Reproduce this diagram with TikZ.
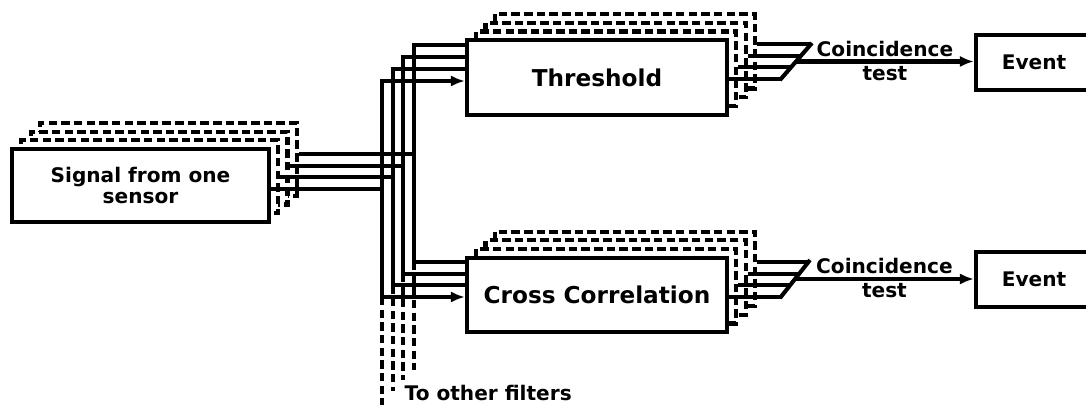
\documentclass[tikz,border=0pt]{standalone}
\usepackage{fontspec}
\setmainfont{DejaVu Sans}
\usetikzlibrary{arrows.meta,calc}
\begin{document}
\begin{tikzpicture}[x=0.025cm,y=-0.025cm,
 box/.style={draw,fill=white,line width=3pt,inner sep=2pt,align=center,
             font=\bfseries\fontsize{14.3}{14.5}\selectfont},
 ghost/.style={box,dash pattern=on 6pt off 3pt},
 sensbox/.style={minimum width=6.42cm,minimum height=1.82cm},
 filt/.style={minimum width=6.5cm,minimum height=1.86cm},
 big/.style={font=\bfseries\fontsize{16.5}{18}\selectfont},
 evbox/.style={box,minimum width=2.9cm,minimum height=1.375cm},
 bus/.style={line width=2.9pt},
 sig/.style={bus,-{Latex[length=10pt,width=8pt]}},
 other/.style={bus,dash pattern=on 6pt off 3pt},
 lbl/.style={font=\bfseries\fontsize{14.3}{14.5}\selectfont,inner sep=2pt}]
 \path[use as bounding box,clip] (0,0) rectangle (1086,406);
 \foreach \k in {3,2,1} {
  \node[ghost,sensbox] (sen\k) at (140.5+9.3*\k,185.5-8.7*\k) {};
  \node[ghost,filt] (thr\k) at (597+9.3*\k,77.5-8.7*\k) {};
  \node[ghost,filt] (xc\k) at (597+9.3*\k,295-8.7*\k) {};
 }
 \node[box,sensbox] (sen0) at (140.5,185.5) {Signal from one\\sensor};
 \node[box,filt,big] (thr0) at (597,77.5) {Threshold};
 \node[box,filt,big] (xc0) at (597,295) {Cross Correlation};
 \node[evbox] (ev1) at (1034,62.5) {Event};
 \node[evbox] (ev2) at (1034,279.5) {Event};
 \foreach \i/\tip/\ys/\xb/\yt/\yc/\yd in {0/sig/189/382/81/297/405,
   1/bus/177.4/392.7/69/285.3/391,2/bus/165.8/403.4/57/273.6/380,
   3/bus/154.2/414.1/45/262/370} {
  \coordinate (j\i) at (\xb,\ys);
  \coordinate (k\i) at (\xb,\yc);
  \coordinate (o\i) at (\xb,\yd);
  \draw[bus] (sen\i.east |- j\i) -- (j\i);
  \draw[\tip] (j\i) |- (thr0.west |- 0,\yt);
  \draw[\tip] (j\i) |- (xc0.west |- k\i);
  \draw[other] (k\i) -- (o\i);
 }
 \node[lbl,anchor=west,inner sep=1pt] (oth) at (403,393.5) {To other filters};
 \coordinate (ta) at (780,80);
 \coordinate (tb) at (812,43);
 \coordinate (ca) at (780,298);
 \coordinate (cb) at (810,260);
 \draw[bus] (ta) -- (tb);
 \draw[bus] (ca) -- (cb);
 \foreach \i/\t/\u in {0/0.03/0.026,1/0.34/0.334,2/0.65/0.642,3/0.97/0.947} {
  \coordinate (te\i) at ($(ta)!\t!(tb)$);
  \coordinate (ce\i) at ($(ca)!\u!(cb)$);
  \draw[bus] (thr\i.east |- te\i) -- (te\i);
  \draw[bus] (xc\i.east |- ce\i) -- (ce\i);
 }
 \coordinate (tm) at ($(ta)!0.5!(tb)$);
 \coordinate (cm) at ($(ca)!0.5!(cb)$);
 \draw[sig] (tm) -- node[lbl,above]{Coincidence} node[lbl,below]{test} (ev1.west |- tm);
 \draw[sig] (cm) -- node[lbl,above]{Coincidence} node[lbl,below]{test} (ev2.west |- cm);
\end{tikzpicture}
\end{document}
